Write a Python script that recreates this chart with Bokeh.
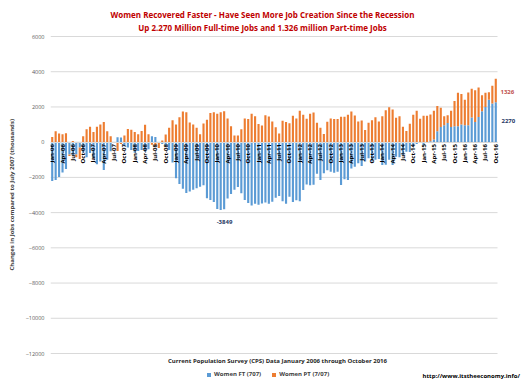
from math import pi
from bokeh.plotting import figure
from bokeh.models import ColumnDataSource, Range1d, FixedTicker, Label, Legend, LegendItem
from bokeh.embed import file_html
from bokeh.resources import INLINE

# Women full-time jobs, change vs July 2007 (thousands), Jan-2006 .. Oct-2016
ft = [-2200, -2150, -1980, -1720, -1520, -700, -750, -700, -300, -600,
      -850, -620, -900, -1250, -1100, -1580, -1000, -520, 0, 280,
      260, -230, -300, -450, -600, -500, -450, -550, -400, 340,
      290, -50, -100, -200, -450, -1150, -2050, -2380, -2650, -2880,
      -2800, -2700, -2620, -2530, -2450, -3190, -3280, -3400, -3800, -3849,
      -3810, -3200, -2950, -2700, -2550, -2900, -3280, -3450, -3600, -3500,
      -3550, -3480, -3420, -3500, -3380, -3150, -3050, -3350, -3500, -3100,
      -3400, -3300, -3350, -2720, -2400, -2450, -2420, -1800, -2150, -1770,
      -1600, -1680, -1730, -1680, -2430, -2100, -2150, -1500, -1400, -1200,
      -1350, -1100, -920, -1100, -1000, -950, -1300, -1280, -1000, -1300,
      -830, -850, -740, -550, -560, -230, -110, -50, -170, -40,
      50, 150, 620, 860, 960, 1090, 860, 900, 900, 1000,
      960, 960, 1400, 1150, 1430, 1750, 2000, 2410, 2190, 2270]

# Women part-time jobs, change vs July 2007 (thousands)
pt = [300, 620, 490, 450, 500, -80, 60, -150, -650, 340,
      730, 880, 580, 880, 1010, 1140, 620, 340, 0, -500,
      -100, 375, 750, 710, 580, 450, 640, 990, 450, -150,
      -200, -280, 100, 430, 820, 1250, 1000, 1420, 1740, 1700,
      1120, 1010, 820, 450, 1060, 1270, 1660, 1700, 1620, 1700,
      1750, 1340, 900, 375, 375, 730, 1340, 1320, 1620, 1470,
      1030, 950, 1530, 1460, 1180, 840, 490, 1220, 1150, 1080,
      1500, 1340, 1780, 1550, 1330, 1610, 1680, 1100, 820, 470,
      1160, 1340, 1320, 1320, 1440, 1440, 1550, 1740, 1510, 1180,
      1230, 690, 1100, 1250, 1420, 1180, 1470, 1810, 1980, 1850,
      1380, 1470, 880, 640, 1050, 1550, 1780, 1330, 1500, 1500,
      1520, 1640, 1440, 1090, 510, 440, 920, 1440, 1900, 1730,
      1450, 1860, 1630, 1800, 1670, 920, 800, 430, 1020, 1326]

tick_labels = ["Jan-06", "Apr-06", "Jul-06", "Oct-06", "Jan-07", "Apr-07", "Jul-07", "Oct-07",
               "Jan-08", "Apr-08", "Jul-08", "Oct-08", "Jan-09", "Apr-09", "Jul-09", "Oct-09",
               "Jan-10", "Apr-10", "Jul-10", "Oct-10", "Jan-11", "Apr-11", "Jul-11", "Oct-11",
               "Jan-12", "Apr-12", "Jul-12", "Oct-12", "Jan-13", "Apr-13", "Jul-13", "Oct-13",
               "Jan-14", "Apr-14", "Jul-14", "Oct-14", "Jan-15", "Apr-15", "Jul-15", "Oct-15",
               "Jan-16", "Apr-16", "Jul-16", "Oct-16"]

y_ticks = [-12000, -10000, -8000, -6000, -4000, -2000, 0, 2000, 4000, 6000]

n = len(ft)
xs = list(range(n))
# Excel-style stacking: positives stack upward, negatives downward
pt_bottom = [f if (f >= 0) == (q >= 0) else 0 for f, q in zip(ft, pt)]
pt_top = [b + q for b, q in zip(pt_bottom, pt)]
src = ColumnDataSource(dict(x=xs, ft=ft, zero=[0] * n, ptb=pt_bottom, ptt=pt_top))

# ---- layout (pixels) ----
W, H = 531, 387
PL, PR, PT_, PB = 50, 497, 36, 353          # plot area in page pixels
ymin_v, ymax_v = y_ticks[0], y_ticks[-1]
upp_y = (ymax_v - ymin_v) / (PB - PT_)      # value units per pixel
upp_x = n / (PR - PL)
x0 = -0.5
x_end = x0 + (W - PL) * upp_x
y_start = ymin_v - (H - PB) * upp_y
y_end = ymax_v + PT_ * upp_y

def dx(px):
    return x0 + (px - PL) * upp_x

def dy(py):
    return ymax_v - (py - PT_) * upp_y

FONT = "Open Sans"
p = figure(width=W, height=H, x_range=Range1d(x0, x_end), y_range=Range1d(y_start, y_end),
           output_backend="svg", toolbar_location=None,
           min_border_left=PL, min_border_right=0, min_border_top=0, min_border_bottom=0)
p.outline_line_color = None
p.background_fill_color = "white"
p.border_fill_color = "white"
p.xgrid.visible = False
p.ygrid.visible = False

# horizontal gridlines limited to the plot area
gsrc = ColumnDataSource(dict(y=y_ticks, xa=[x0] * len(y_ticks), xb=[n - 0.5] * len(y_ticks)))
p.segment(x0="xa", x1="xb", y0="y", y1="y", source=gsrc, line_color="#D9D9D9",
          line_width=1, level="underlay")

r1 = p.vbar(x="x", bottom="zero", top="ft", width=0.62, source=src,
            fill_color="#5B9BD5", line_color=None)
r2 = p.vbar(x="x", bottom="ptb", top="ptt", width=0.62, source=src,
            fill_color="#ED7D31", line_color=None)

# y axis
p.yaxis.ticker = FixedTicker(ticks=y_ticks)
p.yaxis.axis_line_color = None
p.yaxis.major_tick_line_color = None
p.yaxis.minor_tick_line_color = None
p.yaxis.major_tick_out = 0
p.yaxis.major_tick_in = 0
p.yaxis.minor_tick_out = 0
p.yaxis.major_label_text_font = FONT
p.yaxis.major_label_text_font_size = "5.5px"
p.yaxis.major_label_text_color = "#595959"
p.yaxis.major_label_standoff = 6
p.yaxis.axis_label = "Changes in Jobs compared to  July 2007 (thousands)"
p.yaxis.axis_label_text_font = FONT
p.yaxis.axis_label_text_font_size = "6px"
p.yaxis.axis_label_text_font_style = "bold"
p.yaxis.axis_label_text_color = "#404040"
p.yaxis.axis_label_standoff = 7

# x axis at zero
tick_pos = list(range(0, n, 3))
p.xaxis.fixed_location = 0
p.xaxis.bounds = (x0, n - 0.5)
p.xaxis.ticker = FixedTicker(ticks=tick_pos)
p.xaxis.major_label_overrides = {t: lab for t, lab in zip(tick_pos, tick_labels)}
p.xaxis.major_label_orientation = pi / 2
p.xaxis.axis_line_color = "#D9D9D9"
p.xaxis.major_tick_line_color = None
p.xaxis.minor_tick_line_color = None
p.xaxis.major_tick_out = 0
p.xaxis.major_tick_in = 0
p.xaxis.major_label_text_font = FONT
p.xaxis.major_label_text_font_size = "6px"
p.xaxis.major_label_text_font_style = "bold"
p.xaxis.major_label_text_color = "#000000"
p.xaxis.major_label_standoff = 2

def lab(px, py, text, size, color, align="center", bold=True):
    p.add_layout(Label(x=dx(px), y=dy(py), text=text, text_align=align, text_baseline="middle",
                       text_font=FONT, text_font_size=size,
                       text_font_style="bold" if bold else "normal", text_color=color))

lab(262, 14, "Women Recovered Faster - Have Seen More Job Creation Since the Recession", "8px", "#C00000")
lab(262, 27, "Up 2.270 Million Full-time Jobs and 1.326 million Part-time Jobs", "8px", "#C00000")
lab(277, 360, "Current Population Survey (CPS) Data January 2006 through October 2016", "6px", "#262626")
lab(422, 375, "http://www.itstheeconomy.info/", "6px", "#000000", align="left")
lab(224, 221, "-3849", "6px", "#1F3864")
lab(500, 91, "1326", "6px", "#C0504D", align="left")
lab(501, 120, "2270", "6px", "#1F3864", align="left")

legend = Legend(items=[LegendItem(label="Women FT (707)", renderers=[r1]),
                       LegendItem(label="Women PT (7/07)", renderers=[r2])],
                location=(156, 9), orientation="horizontal",
                border_line_color=None, background_fill_alpha=0,
                glyph_width=5, glyph_height=5, label_height=6,
                label_text_font=FONT, label_text_font_size="6px", label_text_font_style="bold",
                label_text_color="#404040", label_standoff=3, spacing=10, padding=0, margin=0)
p.add_layout(legend)

open("out.html", "w").write(file_html(p, INLINE))
